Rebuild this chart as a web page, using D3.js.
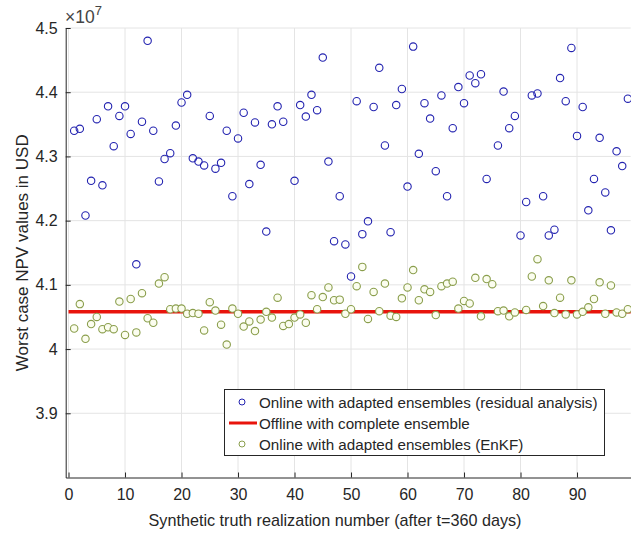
<!DOCTYPE html>
<html>
<head>
<meta charset="utf-8">
<script src="https://cdn.jsdelivr.net/npm/d3@7"></script>
<style>
  html, body { margin: 0; padding: 0; background: #fff; }
  svg { display: block; font-family: "Liberation Sans", Arial, Helvetica, sans-serif; }
</style>
</head>
<body>
<svg id="chart" width="631" height="535"></svg>
<script>
// Realization index 1..99 (x axis)
const realizations = d3.range(1, 100);

// Worst case NPV, units of 1e7 USD — online, residual analysis (null = not shown)
const residualNPV = [
  4.340, 4.343, 4.208, 4.262, 4.358, 4.255, 4.378, 4.316, 4.363, 4.378,
  4.335, 4.132, 4.354, 4.480, 4.340, 4.261, 4.296, 4.305, 4.348, 4.384,
  4.396, 4.297, 4.292, 4.286, 4.363, 4.281, 4.290, 4.340, 4.238, 4.328,
  4.368, 4.257, 4.353, 4.287, 4.183, 4.350, 4.378, 4.354, null,  4.262,
  4.380, 4.362, 4.396, 4.372, 4.454, 4.292, 4.168, 4.238, 4.163, 4.113,
  4.386, 4.179, 4.199, 4.377, 4.438, 4.317, 4.182, 4.380, 4.405, 4.253,
  4.471, 4.304, 4.383, 4.359, 4.277, 4.395, 4.238, 4.344, 4.408, 4.383,
  4.426, 4.414, 4.428, 4.265, null,  4.317, 4.401, 4.344, 4.363, 4.177,
  4.229, 4.395, 4.398, 4.238, 4.177, 4.186, 4.422, 4.386, 4.469, 4.332,
  4.377, 4.216, 4.265, 4.329, 4.244, 4.185, 4.308, 4.285, 4.390
];

// Worst case NPV, units of 1e7 USD — online, EnKF (null = not shown)
const enkfNPV = [
  4.032, 4.070, 4.016, 4.039, 4.050, 4.031, 4.034, 4.031, 4.074, 4.022,
  4.078, 4.026, 4.087, 4.048, 4.041, 4.102, 4.112, 4.062, 4.063, 4.063,
  4.055, 4.056, 4.055, 4.029, 4.073, 4.060, 4.038, 4.007, 4.063, 4.055,
  4.035, 4.043, 4.028, 4.046, 4.058, 4.049, 4.080, 4.036, 4.039, 4.049,
  4.054, 4.041, 4.084, 4.062, 4.081, 4.096, 4.076, 4.077, 4.055, 4.062,
  4.098, 4.128, 4.047, 4.089, 4.059, 4.102, 4.052, 4.050, 4.079, 4.096,
  4.123, 4.076, 4.093, 4.089, 4.053, 4.098, 4.102, 4.105, 4.063, 4.075,
  4.071, 4.111, 4.051, 4.109, 4.101, 4.059, 4.060, 4.051, 4.057, null,
  4.061, 4.113, 4.140, 4.067, 4.107, 4.056, 4.080, 4.054, 4.107, 4.054,
  4.058, 4.065, 4.078, 4.104, 4.055, 4.099, 4.057, 4.055, 4.062
];

// Offline result with the complete ensemble (constant reference level)
const offlineNPV = 4.058;
const offlineSpan = [0, 99.5];

const xTicks = [0, 10, 20, 30, 40, 50, 60, 70, 80, 90];
const yTicks = [3.9, 4.0, 4.1, 4.2, 4.3, 4.4, 4.5];

const legendLabels = [
  "Online with adapted ensembles (residual analysis)",
  "Offline with complete ensemble",
  "Online with adapted ensembles (EnKF)"
];

const ink = "#262626";
const blue = "#2323b0";
const green = "#8a9e4c";
const greenFill = "#fbfdef";
const red = "#e8140c";

const svg = d3.select("#chart");
const plot = { left: 65.7, right: 630.7, top: 28, bottom: 477.5 };

const x = d3.scaleLinear().domain([-0.5, 99.5]).range([plot.left, plot.right]);
const y = d3.scaleLinear().domain([3.8, 4.5]).range([plot.bottom, plot.top]);

// grid
const grid = svg.append("g").attr("stroke", "#e4e4e4").attr("stroke-width", 1);
grid.selectAll("line.gx").data(xTicks).join("line")
  .attr("x1", d => x(d)).attr("x2", d => x(d))
  .attr("y1", plot.top).attr("y2", plot.bottom);
grid.selectAll("line.gy").data(yTicks).join("line")
  .attr("x1", plot.left).attr("x2", plot.right)
  .attr("y1", d => y(d)).attr("y2", d => y(d));

// axes with inward ticks
const xAxis = svg.append("g")
  .attr("transform", `translate(0,${plot.bottom})`)
  .call(d3.axisBottom(x).tickValues(xTicks).tickSizeInner(-5).tickSizeOuter(0)
    .tickPadding(11).tickFormat(d3.format("d")));
const yAxis = svg.append("g")
  .attr("transform", `translate(${plot.left},0)`)
  .call(d3.axisLeft(y).tickValues(yTicks).tickSizeInner(-5).tickSizeOuter(0)
    .tickPadding(8).tickFormat(d => d3.format("~g")(d)));

[xAxis, yAxis].forEach(g => {
  g.select(".domain").attr("stroke", ink).attr("stroke-width", 1);
  g.selectAll(".tick line").attr("stroke", ink);
  g.selectAll(".tick text").attr("fill", ink).attr("font-size", 16)
    .attr("font-family", "Liberation Sans, Arial, sans-serif");
});

// offline reference line
svg.append("line")
  .attr("x1", x(offlineSpan[0])).attr("x2", x(offlineSpan[1]))
  .attr("y1", y(offlineNPV)).attr("y2", y(offlineNPV))
  .attr("stroke", red).attr("stroke-width", 3.5);

// residual-analysis markers
svg.append("g").selectAll("circle")
  .data(realizations.map((r, i) => [r, residualNPV[i]]).filter(d => d[1] != null))
  .join("circle")
  .attr("cx", d => x(d[0])).attr("cy", d => y(d[1])).attr("r", 3.7)
  .attr("fill", "none").attr("stroke", blue).attr("stroke-width", 1.1);

// EnKF markers
svg.append("g").selectAll("circle")
  .data(realizations.map((r, i) => [r, enkfNPV[i]]).filter(d => d[1] != null))
  .join("circle")
  .attr("cx", d => x(d[0])).attr("cy", d => y(d[1])).attr("r", 3.7)
  .attr("fill", greenFill).attr("stroke", green).attr("stroke-width", 1.1);

// exponent label
const expo = svg.append("text").attr("x", 65).attr("y", 23)
  .attr("fill", "#444").attr("font-size", 17.5);
expo.append("tspan").text("\u00d710");
expo.append("tspan").attr("dy", -8).attr("font-size", 13).text("7");

// axis titles
svg.append("text")
  .attr("x", 335).attr("y", 526)
  .attr("text-anchor", "middle").attr("fill", ink).attr("font-size", 16.2)
  .text("Synthetic truth realization number (after t=360 days)");
svg.append("text")
  .attr("transform", `translate(28,${(plot.top + plot.bottom) / 2}) rotate(-90)`)
  .attr("text-anchor", "middle").attr("fill", ink).attr("font-size", 17)
  .text("Worst case NPV values in USD");

// legend
const lg = svg.append("g");
lg.append("rect").attr("x", 224.5).attr("y", 389.5).attr("width", 380).attr("height", 66)
  .attr("fill", "#fff").attr("stroke", ink).attr("stroke-width", 1);
const rowY = [402, 423, 444];
lg.append("circle").attr("cx", 242).attr("cy", rowY[0]).attr("r", 3)
  .attr("fill", "none").attr("stroke", blue).attr("stroke-width", 1);
lg.append("line").attr("x1", 229).attr("x2", 257).attr("y1", rowY[1]).attr("y2", rowY[1])
  .attr("stroke", red).attr("stroke-width", 3);
lg.append("circle").attr("cx", 242).attr("cy", rowY[2]).attr("r", 3)
  .attr("fill", "none").attr("stroke", green).attr("stroke-width", 1);
lg.selectAll("text.lt").data(legendLabels).join("text")
  .attr("x", 259).attr("y", (d, i) => rowY[i] + 5.5)
  .attr("fill", ink).attr("font-size", 15.2).text(d => d);
</script>
</body>
</html>
